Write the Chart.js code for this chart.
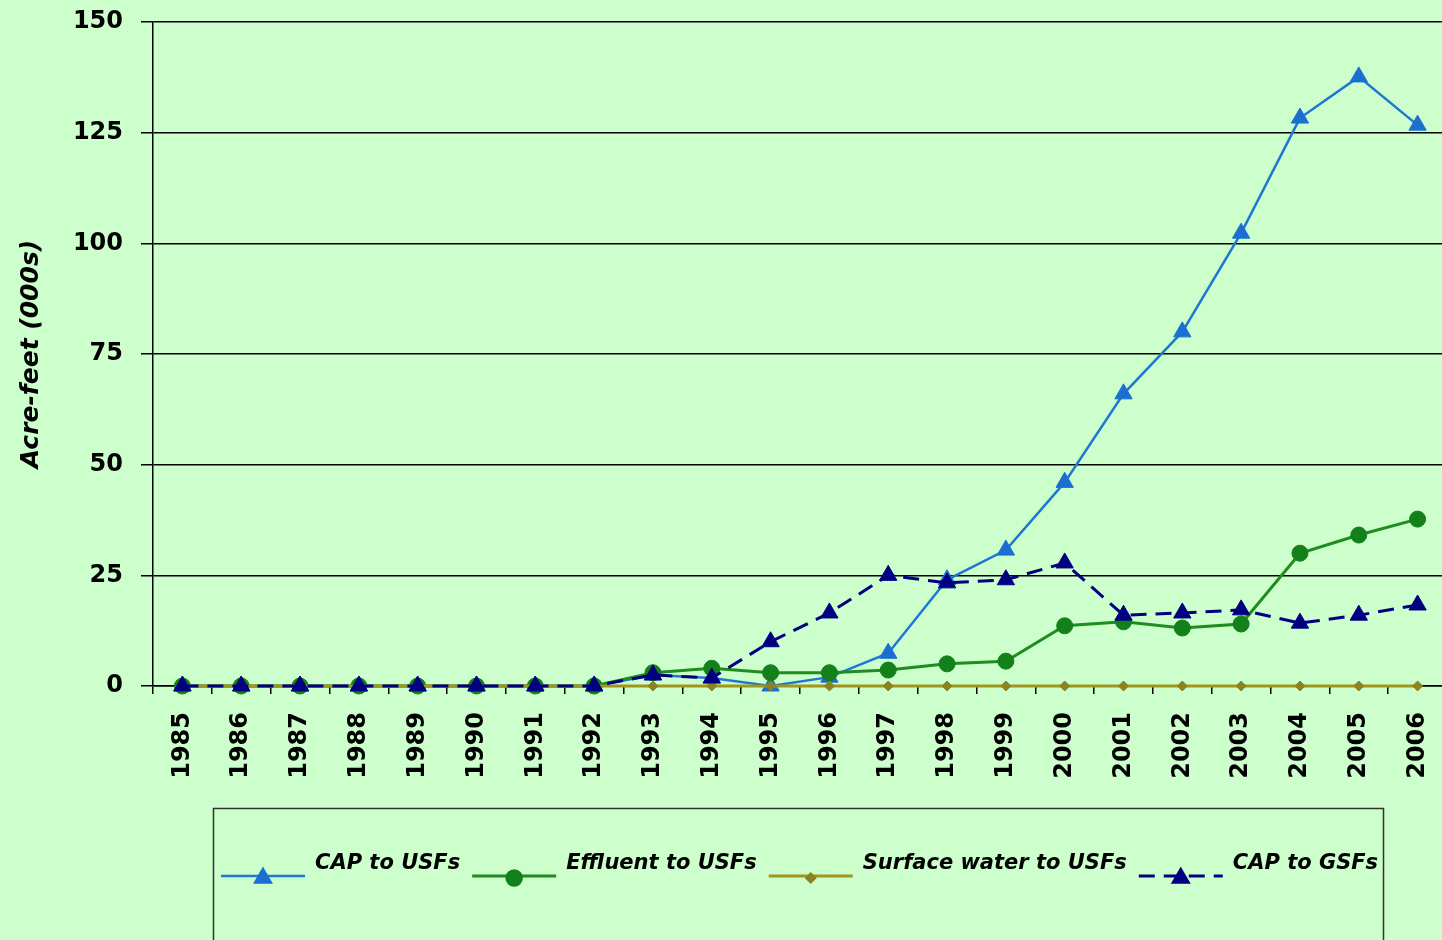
<!DOCTYPE html>
<html>
<head>
<meta charset="utf-8">
<script src="https://cdn.jsdelivr.net/npm/chart.js@4/dist/chart.umd.min.js"></script>
<style>
  html, body { margin: 0; padding: 0; background: #ccffcc; overflow: hidden; }
  #wrap { width: 1458px; height: 940px; }
</style>
</head>
<body>
<div id="wrap"><canvas id="myChart" width="1458" height="940"></canvas></div>
<script>
// values, thousands of acre-feet
const years = ["1985","1986","1987","1988","1989","1990","1991","1992","1993","1994","1995",
               "1996","1997","1998","1999","2000","2001","2002","2003","2004","2005","2006"];
const capToUSF      = [0,0,0,0,0,0,0,0, 2.5,1.8,0,  2,  7.4,24,  30.7,46,  66,  80,  102.3,128.3,137.6,126.7];
const effluentToUSF = [0,0,0,0,0,0,0,0, 3,  4,  3,  3,  3.6, 5,   5.6,13.6,14.5,13.1,14,  30,   34.1, 37.7];
const surfaceToUSF  = [0,0,0,0,0,0,0,0, 0,  0,  0,  0,  0,   0,   0,  0,   0,   0,   0,   0,    0,    0];
const capToGSF      = [0,0,0,0,0,0,0,0, 2.5,1.8,10, 16.5,25, 23.3,24, 27.8,16,  16.5,17.2,14.2, 16,   18.3];
const yTicks = [0, 25, 50, 75, 100, 125, 150];

Chart.defaults.font.family = "'DejaVu Sans', sans-serif";
Chart.defaults.color = "#000";

// legend in a box under the axis, drawn like the spreadsheet one
const boxLegend = {
  id: 'boxLegend',
  afterDraw(chart) {
    const ctx = chart.ctx;
    ctx.save();
    ctx.strokeStyle = '#333';
    ctx.lineWidth = 1.5;
    ctx.strokeRect(213.5, 808.5, 1170, 200);

    let x = 221;
    const ly = 876, ty = 864;
    ctx.font = "italic bold 21px 'DejaVu Sans'";
    ctx.textBaseline = 'middle';
    chart.data.datasets.forEach(ds => {
      ctx.save();
      ctx.strokeStyle = ds.borderColor;
      ctx.lineWidth = ds.borderWidth;
      ctx.setLineDash(ds.borderDash || []);
      ctx.beginPath();
      ctx.moveTo(x, ly);
      ctx.lineTo(x + 84, ly);
      ctx.stroke();
      ctx.restore();
      ctx.save();
      ctx.fillStyle = ds.pointBackgroundColor;
      ctx.strokeStyle = ds.pointBackgroundColor;
      Chart.helpers.drawPoint(ctx, {pointStyle: ds.pointStyle, radius: ds.pointRadius, borderWidth: 1, rotation: 0}, x + 42, ly + 2);
      ctx.restore();
      ctx.fillStyle = '#000';
      ctx.fillText(ds.label, x + 94, ty);
      x += 94 + ctx.measureText(ds.label).width + 12;
    });
    ctx.restore();
  }
};

new Chart(document.getElementById("myChart"), {
  type: 'line',
  data: {
    labels: years,
    datasets: [
      {
        label: "CAP to USFs",
        data: capToUSF,
        borderColor: '#1e78d2',
        borderWidth: 2.5,
        pointStyle: 'triangle',
        pointRadius: 10,
        pointBackgroundColor: '#1a6fd0',
        pointBorderColor: '#1a6fd0',
        pointBorderWidth: 1,
        tension: 0,
        clip: false,
        order: 4
      },
      {
        label: "Effluent to USFs",
        data: effluentToUSF,
        borderColor: '#1e8c1e',
        borderWidth: 3,
        pointStyle: 'circle',
        pointRadius: 8,
        pointBackgroundColor: '#13801a',
        pointBorderColor: '#13801a',
        pointBorderWidth: 1,
        tension: 0,
        clip: false,
        order: 3
      },
      {
        label: "Surface water to USFs",
        data: surfaceToUSF,
        borderColor: '#a0961e',
        borderWidth: 3,
        pointStyle: 'rectRot',
        pointRadius: 5,
        pointBackgroundColor: '#8c8220',
        pointBorderColor: '#8c8220',
        pointBorderWidth: 1,
        tension: 0,
        clip: false,
        order: 2
      },
      {
        label: "CAP to GSFs",
        data: capToGSF,
        borderColor: '#000080',
        borderWidth: 3,
        borderDash: [16, 9],
        pointStyle: 'triangle',
        pointRadius: 10,
        pointBackgroundColor: '#000080',
        pointBorderColor: '#000080',
        pointBorderWidth: 1,
        tension: 0,
        clip: false,
        order: 1
      }
    ]
  },
  options: {
    responsive: false,
    animation: false,
    layout: { padding: { top: 22, left: 0, right: 1, bottom: 0 } },
    plugins: {
      legend: { display: false },
      title: { display: false },
      tooltip: { enabled: false }
    },
    scales: {
      x: {
        offset: true,
        afterFit: s => { s.height = 254; s.paddingLeft = 0; s.paddingRight = 0; },
        grid: { drawOnChartArea: false, drawTicks: true, tickLength: 8, color: '#000', lineWidth: 1.5, offset: true },
        border: { display: true, color: '#000', width: 1.5 },
        ticks: {
          autoSkip: false, maxRotation: 90, minRotation: 90, padding: 18,
          font: { size: 24, weight: 'bold' }, color: '#000'
        }
      },
      y: {
        min: 0,
        max: 150,
        afterFit: s => { s.width = 153; s.paddingTop = 0; s.paddingBottom = 0; },
        afterBuildTicks: s => { s.ticks = yTicks.map(v => ({ value: v })); },
        grid: { color: '#000', lineWidth: 1.5, tickLength: 12 },
        border: { display: true, color: '#000', width: 1.5 },
        ticks: { padding: 18, font: { size: 24, weight: 'bold' }, color: '#000' },
        title: {
          display: true,
          text: 'Acre-feet (000s)',
          font: { size: 25, weight: 'bold', style: 'italic' },
          color: '#000',
          padding: { top: 16, bottom: 0 }
        }
      }
    }
  },
  plugins: [boxLegend]
});
</script>
</body>
</html>
